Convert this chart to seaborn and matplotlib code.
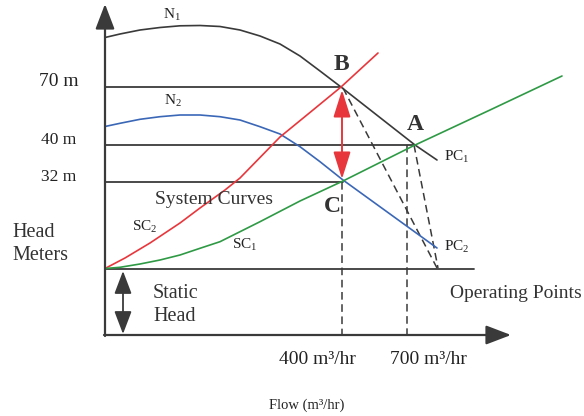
import numpy as np
import pandas as pd
import matplotlib
matplotlib.use("Agg")
import matplotlib.pyplot as plt
import seaborn as sns

# SCHEMATIC DATA (drawing units: x to the right, y downward as in the sketch)

# pump curves
n1_x = [105, 120, 140, 160, 180, 200, 220, 240, 260, 280, 300, 320, 341, 378, 415, 437]
n1_y = [37.5, 34, 30, 27.5, 25.8, 25.5, 26.5, 30, 36, 44, 56, 71, 87, 116, 145, 160]
n2_x = [105, 120, 140, 160, 180, 200, 220, 240, 260, 280, 300, 320, 343, 390, 437]
n2_y = [126.5, 123.3, 119.3, 116.7, 115, 115, 116.7, 120, 126.7, 134, 146.7, 161.7, 180, 214, 248]

# system curves
sc2_x = [105, 125, 150, 180, 200, 225, 240, 280, 313, 341, 378]
sc2_y = [268.5, 258, 243, 223, 208, 190, 178, 137, 110, 87, 53]
sc1_x = [105, 120, 140, 160, 180, 200, 220, 240, 260, 300, 343, 413, 490, 562]
sc1_y = [268.5, 267.3, 264, 260, 255, 248.3, 241.7, 231.7, 221.7, 201, 181, 146, 110, 76]

# head levels (label, y, end of line)
head_labels = ["70 m", "40 m", "32 m"]
head_y = [87, 145, 182]
head_end = [341, 413, 343]
head_size = [14, 12.5, 12.5]
static_y = 269

# operating points
pt_names = ["B", "A", "C"]
pt_x = [341, 415, 332]
pt_y = [64, 125, 206]

# flow ticks
flow_labels = ["400 m\u00b3/hr", "700 m\u00b3/hr"]
flow_x = [342, 407]
flow_label_x = [317, 428]

# dashed projection lines
proj_x0 = [342, 407, 343, 414]
proj_y0 = [182, 145, 88, 145]
proj_x1 = [342, 407, 437, 438]
proj_y1 = [335, 335, 268, 268]

ink = "#3a3a3a"
red = "#e8373c"
blue = "#3b67b7"
green = "#2f9a45"

sns.set_theme(style="white")
plt.rcParams["font.family"] = ["Liberation Serif", "DejaVu Serif"]
plt.rcParams["mathtext.fontset"] = "custom"
plt.rcParams["mathtext.rm"] = "Liberation Serif"
plt.rcParams["mathtext.it"] = "Liberation Serif"

fig = plt.figure(figsize=(5.84, 4.16), dpi=100)
ax = fig.add_axes([0, 0, 1, 1])

# AXES WITH ARROWS
ax.annotate("", xy=(105, 4), xytext=(105, 336),
            arrowprops=dict(arrowstyle="-|>,head_length=1.1,head_width=0.42",
                            mutation_scale=14, color=ink, lw=1.6,
                            shrinkA=0, shrinkB=0))
ax.annotate("", xy=(511, 335), xytext=(104, 335),
            arrowprops=dict(arrowstyle="-|>,head_length=1.1,head_width=0.42",
                            mutation_scale=14, color=ink, lw=1.6,
                            shrinkA=0, shrinkB=0))

# horizontal head lines
for lab, y, xe, fs in zip(head_labels, head_y, head_end, head_size):
    ax.plot([105, xe], [y, y], color=ink, lw=1.3)
    ax.text(59, y - 5, lab, fontsize=fs, ha="center", va="center", color="#222")
ax.plot([105, 474], [static_y, static_y], color=ink, lw=1.3)

# dashed projections
for x0, y0, x1, y1 in zip(proj_x0, proj_y0, proj_x1, proj_y1):
    ax.plot([x0, x1], [y0, y1], color=ink, lw=1.1, ls=(0, (5, 3)))

# curves
curves = pd.concat([
    pd.DataFrame({"x": n1_x, "y": n1_y, "curve": "N1"}),
    pd.DataFrame({"x": n2_x, "y": n2_y, "curve": "N2"}),
    pd.DataFrame({"x": sc2_x, "y": sc2_y, "curve": "SC2"}),
    pd.DataFrame({"x": sc1_x, "y": sc1_y, "curve": "SC1"}),
])
sns.lineplot(data=curves, x="x", y="y", hue="curve", sort=False, estimator=None,
             palette={"N1": ink, "N2": blue, "SC2": red, "SC1": green},
             lw=1.2, legend=False, ax=ax, solid_joinstyle="round")
ax.set_xlim(0, 584)
ax.set_ylim(416, 0)
ax.set_axis_off()

# red double arrow between B and C
ax.annotate("", xy=(342, 90), xytext=(342, 179),
            arrowprops=dict(arrowstyle="<|-|>,head_length=1.2,head_width=0.38",
                            mutation_scale=14, color=red, lw=1.4,
                            shrinkA=0, shrinkB=0))
# static head arrow
ax.annotate("", xy=(123, 271), xytext=(123, 334),
            arrowprops=dict(arrowstyle="<|-|>,head_length=1.0,head_width=0.38",
                            mutation_scale=14, color=ink, lw=1.3,
                            shrinkA=0, shrinkB=0))

# labels
for n, x, y in zip(pt_names, pt_x, pt_y):
    ax.text(x, y, n, fontsize=17, fontweight="bold", ha="center", va="center", color="#333")

ax.text(172, 15, r"N$_{\mathregular{1}}$", fontsize=11, ha="center", va="center", color="#222")
ax.text(173, 101, r"N$_{\mathregular{2}}$", fontsize=11, ha="center", va="center", color="#222")
ax.text(444, 157, r"PC$_{\mathregular{1}}$", fontsize=11, ha="left", va="center", color="#222")
ax.text(444, 247, r"PC$_{\mathregular{2}}$", fontsize=11, ha="left", va="center", color="#222")
ax.text(145, 227, r"SC$_{\mathregular{2}}$", fontsize=11, ha="center", va="center", color="#222")
ax.text(245, 245, r"SC$_{\mathregular{1}}$", fontsize=11, ha="center", va="center", color="#222")

ax.text(214, 200, "System Curves", fontsize=14, ha="center", va="center", color="#333")
ax.text(12, 244, "Head\nMeters", fontsize=14.5, ha="left", va="center",
        linespacing=1.3, color="#333")
ax.text(153, 305, "Static\nHead", fontsize=14.5, ha="left", va="center",
        linespacing=1.35, color="#333")
ax.text(582, 293, "Operating Points", fontsize=14, ha="right", va="center", color="#333")

for lab, x in zip(flow_labels, flow_label_x):
    ax.text(x, 359, lab, fontsize=14, ha="center", va="center", color="#222")
ax.text(307, 405, "Flow (m\u00b3/hr)", fontsize=10.5, ha="center", va="center", color="#222")

fig.savefig("out.png", dpi=100)
